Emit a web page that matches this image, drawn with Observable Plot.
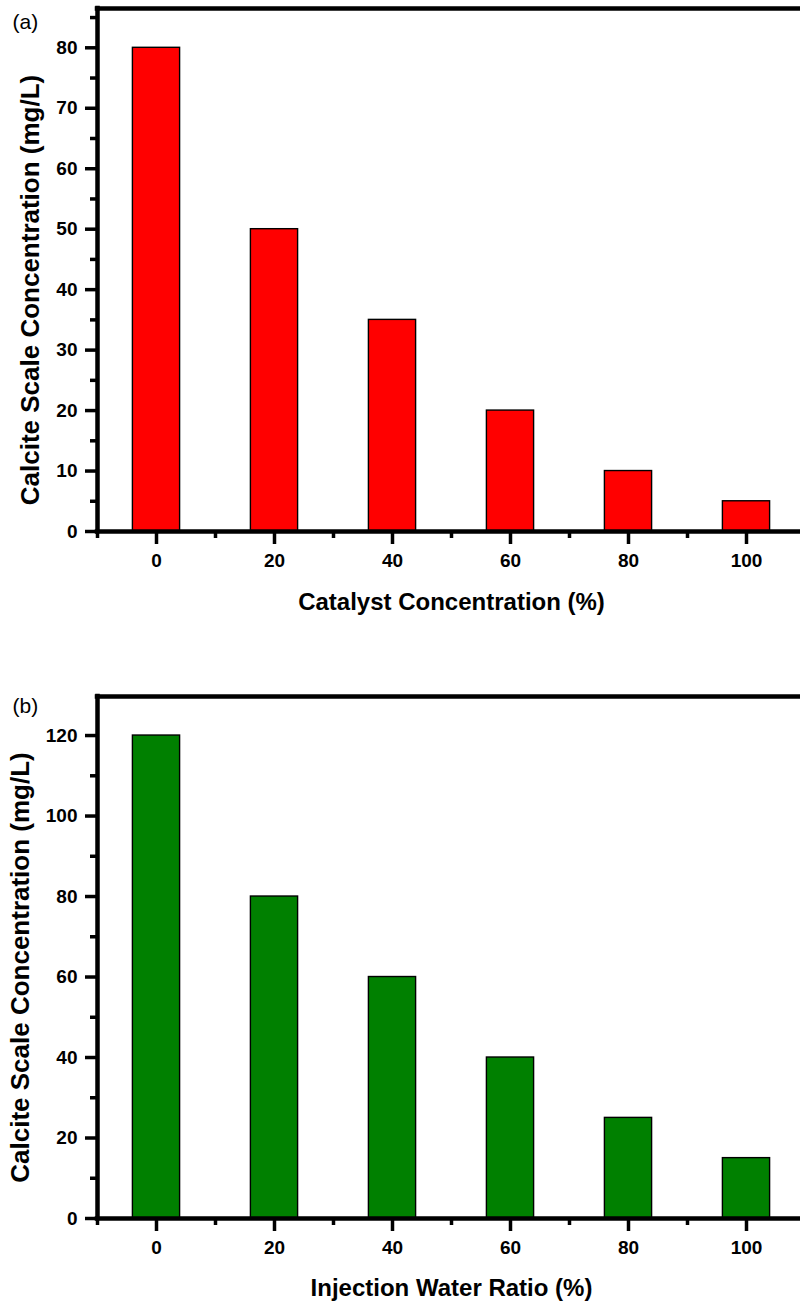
<!DOCTYPE html>
<html>
<head>
<meta charset="utf-8">
<script src="https://cdn.jsdelivr.net/npm/d3@7"></script>
<script src="https://cdn.jsdelivr.net/npm/@observablehq/plot@0.6"></script>
<style>
  html, body { margin: 0; padding: 0; background: #fff; overflow: hidden; width: 800px; }
  #chart { width: 810px; }
  #chart svg { display: block; max-width: none !important; width: 810px; height: 651px !important; }
</style>
</head>
<body>
<div id="chart"></div>
<script>
// ---- data ----
const categories = [0, 20, 40, 60, 80, 100];
const calciteA = [80, 50, 35, 20, 10, 5];      // (a) vs catalyst concentration
const calciteB = [120, 80, 60, 40, 25, 15];    // (b) vs injection water ratio

const xMajorTicks = [0, 20, 40, 60, 80, 100];
const xMinorTicks = [-10, 10, 30, 50, 70, 90, 110];
const yMajorTicksA = [0, 10, 20, 30, 40, 50, 60, 70, 80];
const yMinorTicksA = [5, 15, 25, 35, 45, 55, 65, 75, 85];
const yMajorTicksB = [0, 20, 40, 60, 80, 100, 120];
const yMinorTicksB = [10, 30, 50, 70, 90, 110];

const panelLabels = ["(a)", "(b)"];
const xTitles = ["Catalyst Concentration (%)", "Injection Water Ratio (%)"];
const yTitle = "Calcite Scale Concentration (mg/L)";

const FONT = "'Liberation Sans', Arial, Helvetica, sans-serif";

function panel({values, color, yMax, yMajor, yMinor, marginTop, marginBottom, label, xTitle, yLabelDx, yLabelDy, xLabelDy, panelDy}) {
  const data = categories.map((c, i) => ({c, v: values[i]}));
  const height = 651;
  return Plot.plot({
    width: 810,
    height,
    marginLeft: 97,
    marginRight: 5,
    marginTop,
    marginBottom,
    style: {fontFamily: FONT, fontWeight: "bold", fontSize: "19px", color: "#000", background: "#fff", overflow: "visible"},
    x: {domain: [-10, 110]},
    y: {domain: [0, yMax]},
    marks: [
      Plot.rect(data, {x1: d => d.c - 4, x2: d => d.c + 4, y1: 0, y2: "v", fill: color, stroke: "#000", strokeWidth: 1.4}),
      // frame
      Plot.ruleX([-10, 110], {stroke: "#000", strokeWidth: 4.5, strokeLinecap: "square"}),
      Plot.ruleY([0, yMax], {stroke: "#000", strokeWidth: 4.5, strokeLinecap: "square"}),
      // y axis
      Plot.axisY(yMajor, {anchor: "left", tickSize: 12, tickPadding: 8, strokeWidth: 3.5, fontSize: 19, fontWeight: "bold", label: null}),
      Plot.axisY(yMinor, {anchor: "left", tickSize: 7, strokeWidth: 3.5, tickFormat: () => "", label: null}),
      // x axis
      Plot.axisX(xMajorTicks, {anchor: "bottom", tickSize: 13, tickPadding: 9, strokeWidth: 3.5, fontSize: 19, fontWeight: "bold", label: null}),
      Plot.axisX(xMinorTicks, {anchor: "bottom", tickSize: 7, strokeWidth: 3.5, tickFormat: () => "", label: null}),
      // titles
      Plot.text([yTitle], {frameAnchor: "left", rotate: -90, dx: yLabelDx, dy: yLabelDy, fontSize: 26, fontWeight: "bold", textAnchor: "middle", lineAnchor: "middle", fill: "#000"}),
      Plot.text([xTitle], {frameAnchor: "bottom", dy: xLabelDy, fontSize: 24, fontWeight: "bold", textAnchor: "middle", lineAnchor: "middle", fill: "#000"}),
      Plot.text([label], {frameAnchor: "top-left", dx: -85, dy: panelDy, fontSize: 21, fontWeight: "normal", textAnchor: "start", lineAnchor: "middle", fill: "#000"})
    ]
  });
}

const chart = document.getElementById("chart");
chart.append(panel({
  values: calciteA, color: "#ff0000", yMax: 86.5, yMajor: yMajorTicksA, yMinor: yMinorTicksA,
  marginTop: 8, marginBottom: 120, label: panelLabels[0], xTitle: xTitles[0],
  yLabelDx: -67, yLabelDy: 20, xLabelDy: 71, panelDy: 14
}));
chart.append(panel({
  values: calciteB, color: "#008000", yMax: 129.7, yMajor: yMajorTicksB, yMinor: yMinorTicksB,
  marginTop: 45, marginBottom: 84, label: panelLabels[1], xTitle: xTitles[1],
  yLabelDx: -77, yLabelDy: 10, xLabelDy: 70, panelDy: 10
}));
</script>
</body>
</html>
